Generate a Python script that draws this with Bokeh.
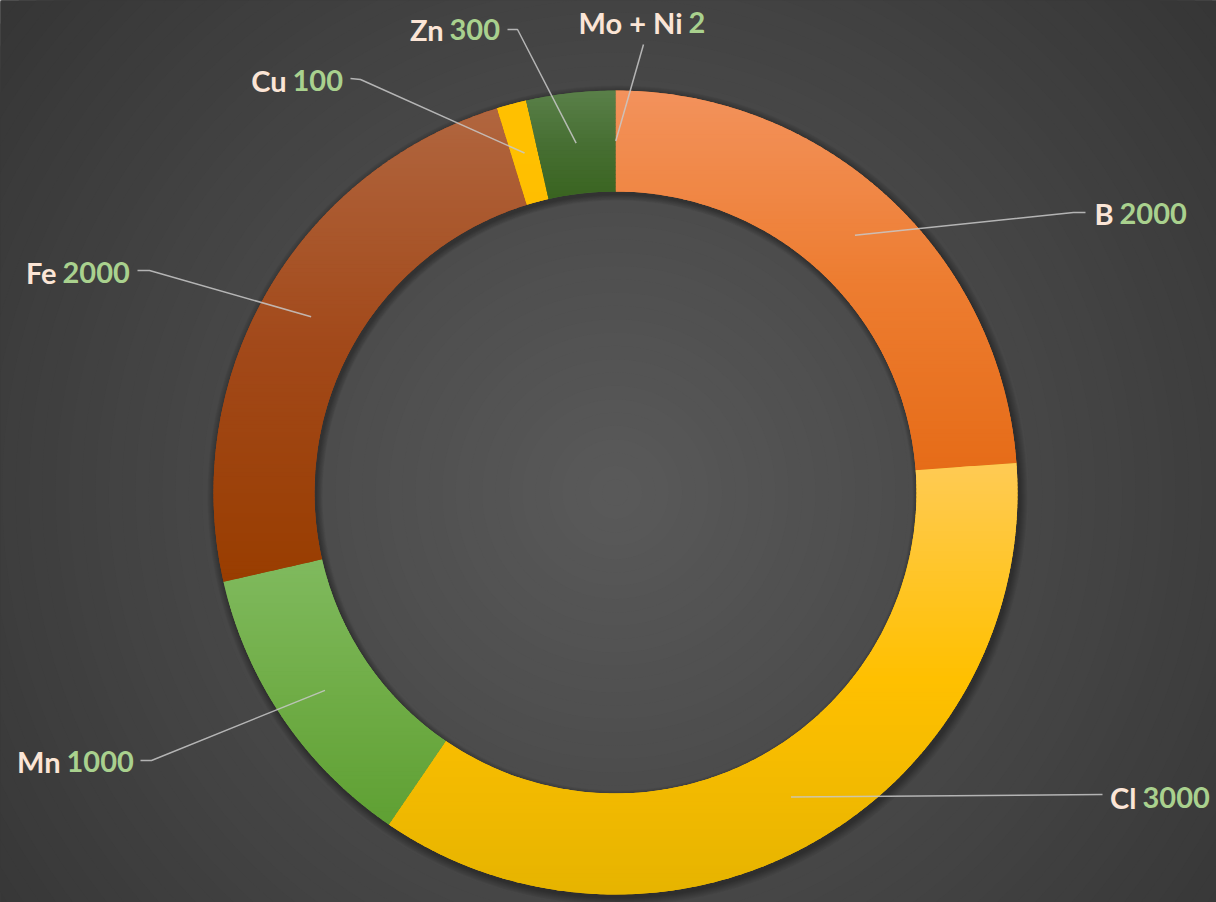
import numpy as np
from bokeh.plotting import figure
from bokeh.models import Range1d, ColumnDataSource
from bokeh.embed import file_html
from bokeh.resources import INLINE
from bokeh.core.properties import value

# ---------------- data ----------------
names = ["Mo + Ni", "B", "Cl", "Mn", "Fe", "Cu", "Zn"]
amounts = [2, 2000, 3000, 1000, 2000, 100, 300]
value_labels = ["2", "2000", "3000", "1000", "2000", "100", "300"]

# ---------------- styles (3-stop vertical gradients) ----------------
top_colors = ["#F39A66", "#F3925C", "#FFCB55", "#80BA5E", "#B1663F", "#FFC000", "#5A8049"]
mid_colors = ["#EF8A4E", "#ED7D31", "#FFC000", "#70AD47", "#A2491A", "#FFC000", "#476F33"]
bottom_colors = ["#EA7A38", "#E66C18", "#E6B400", "#5FA033", "#993D00", "#FFBE00", "#3A6420"]
NAME_COLOR = "#FBE5D6"
VALUE_COLOR = "#A9D18E"
LINE_COLOR = "#C8C8C8"
FONT = "Lato"
FONT_SIZE = "29px"

# ---------------- layout (image pixel coords, y downward) ----------------
IMG_W, IMG_H = 1216, 902
CX, CY = 615, 492
R_OUT, R_IN = 402, 301
split_x = [685, 1116, 1139, 63, 59, 289, 446]
label_y = [22, 213, 797, 761, 272, 80, 29]
lead_start = [(643, 44), (1085, 212), (1102, 794), (140, 760), (137, 270), (350, 78), (507, 29)]
lead_stub = [(643, 44), (1073, 212), (1102, 794), (151, 760), (149, 270), (360, 79), (517, 29)]


def fy(y):
    return IMG_H - y


cx, cy = CX, fy(CY)

p = figure(width=IMG_W, height=IMG_H, x_range=Range1d(0, IMG_W), y_range=Range1d(0, IMG_H),
           output_backend="svg", toolbar_location=None,
           x_axis_location=None, y_axis_location=None, min_border=0)
p.grid.visible = False
p.outline_line_color = None
p.background_fill_color = "#363636"
p.border_fill_color = "#363636"


def hex2rgb(h):
    h = h.lstrip("#")
    return np.array([int(h[i:i + 2], 16) for i in (0, 2, 4)], dtype=float)


def rgb2hex(c):
    c = np.clip(np.round(c), 0, 255).astype(int)
    return "#%02x%02x%02x" % tuple(c)


def grad3(ct, cm, cb, t):
    if t < 0.5:
        return ct + (cm - ct) * (t / 0.5)
    return cm + (cb - cm) * ((t - 0.5) / 0.5)


# background radial gradient (decoration)
bg_in, bg_out = hex2rgb("#5a5a5a"), hex2rgb("#353535")
nbg = 60
rmax = 800
bg_r = [rmax * (1 - i / nbg) for i in range(nbg)]
bg_c = [rgb2hex(bg_out + (bg_in - bg_out) * (1 - r / rmax)) for r in bg_r]
p.circle(x=[cx] * nbg, y=[cy] * nbg, radius=bg_r, fill_color=bg_c, line_color=None)

# soft shadow around ring
for k in range(8):
    p.annulus(x=[cx + 2], y=[cy - 3], inner_radius=R_IN - 6 + k * 0.8, outer_radius=R_OUT + 8 - k,
              fill_color="black", fill_alpha=0.045, line_color=None)

# slice angles (clockwise from top)
total = float(sum(amounts))
cum = np.concatenate([[0.0], np.cumsum(amounts)]) / total * 2 * np.pi
start_a = np.pi / 2 - cum[:-1]
end_a = np.pi / 2 - cum[1:]
mid_a = (start_a + end_a) / 2

# base wedges
p.annular_wedge(x=[cx] * len(names), y=[cy] * len(names), inner_radius=R_IN, outer_radius=R_OUT,
                start_angle=list(start_a), end_angle=list(end_a), direction="clock",
                fill_color=mid_colors, line_color=None)


def clip_half(poly, yv, keep_above):
    out = []
    n = len(poly)
    for i in range(n):
        cur = poly[i]
        prev = poly[i - 1]
        cin = cur[1] >= yv if keep_above else cur[1] <= yv
        pin = prev[1] >= yv if keep_above else prev[1] <= yv
        if cin:
            if not pin:
                t = (yv - prev[1]) / (cur[1] - prev[1])
                out.append((prev[0] + t * (cur[0] - prev[0]), yv))
            out.append(cur)
        elif pin:
            t = (yv - prev[1]) / (cur[1] - prev[1])
            out.append((prev[0] + t * (cur[0] - prev[0]), yv))
    return out


# gradient bands over each slice
pxs, pys, pcs = [], [], []
for i in range(len(names)):
    a0, a1 = start_a[i], end_a[i]
    npts = max(4, int(abs(a1 - a0) / (2 * np.pi) * 720))
    ang = np.linspace(a0, a1, npts)
    outer = [(cx + R_OUT * np.cos(a), cy + R_OUT * np.sin(a)) for a in ang]
    inner = [(cx + R_IN * np.cos(a), cy + R_IN * np.sin(a)) for a in ang[::-1]]
    poly = outer + inner
    ys = [q[1] for q in poly]
    ymin, ymax = min(ys), max(ys)
    nb = max(1, int((ymax - ymin) / 4))
    edges = np.linspace(ymax, ymin, nb + 1)
    ct, cm, cb = hex2rgb(top_colors[i]), hex2rgb(mid_colors[i]), hex2rgb(bottom_colors[i])
    for b in range(nb):
        yt, yb = edges[b] + 0.6, edges[b + 1] - 0.6
        pp = clip_half(poly, yt, keep_above=False)
        if len(pp) < 3:
            continue
        pp = clip_half(pp, yb, keep_above=True)
        if len(pp) < 3:
            continue
        t = (b + 0.5) / nb
        pxs.append([q[0] for q in pp])
        pys.append([q[1] for q in pp])
        pcs.append(rgb2hex(grad3(ct, cm, cb, t)))
p.patches(xs=pxs, ys=pys, fill_color=pcs, line_color=None)

# leader lines
r_mid = (R_IN + R_OUT) / 2
lx, ly = [], []
for i in range(len(names)):
    ax_ = cx + r_mid * np.cos(mid_a[i])
    ay_ = cy + r_mid * np.sin(mid_a[i])
    s0, s1 = lead_start[i], lead_stub[i]
    lx.append([s0[0], s1[0], ax_])
    ly.append([fy(s0[1]), fy(s1[1]), ay_])
p.multi_line(xs=lx, ys=ly, line_color=LINE_COLOR, line_width=1.5, line_alpha=0.85)

# labels
src = ColumnDataSource(dict(
    nx=[s - 3 for s in split_x], vx=[s + 3 for s in split_x],
    y=[fy(v) for v in label_y], name=names, val=value_labels))
p.text(x="nx", y="y", text="name", source=src, text_align="right", text_baseline="middle",
       text_font=value(FONT), text_font_style="bold", text_font_size=FONT_SIZE, text_color=NAME_COLOR)
p.text(x="vx", y="y", text="val", source=src, text_align="left", text_baseline="middle",
       text_font=value(FONT), text_font_style="bold", text_font_size=FONT_SIZE, text_color=VALUE_COLOR)

open("out.html", "w").write(file_html(p, INLINE))
